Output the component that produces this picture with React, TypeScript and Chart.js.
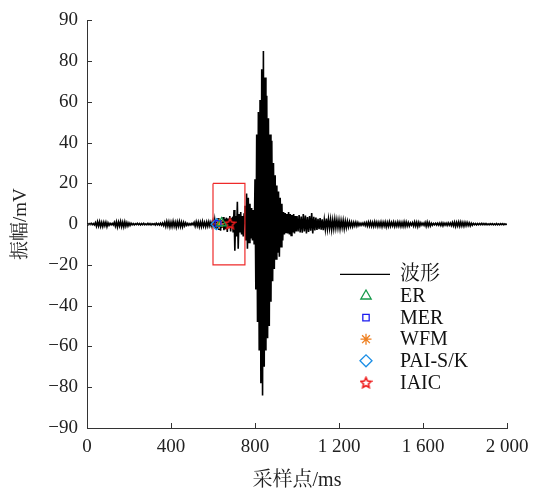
import React, { useEffect, useRef } from "react";
import { Chart, registerables } from "chart.js";
import { drawPoint } from "chart.js/helpers";

Chart.register(...registerables);

// ---- waveform samples ----
const PRE_START = 0;
const PRE_STEP = 5;
const WAVE_PRE = [
  0.2, -0.3, 0.3, -0.2, 0.4, -0.3, 0.3, -0.4,
  0.8, -1.0, 1.2, -0.9, 1.3, -1.1, 0.9, -1.2, 1.0, -0.8, 1.0, -1.2, 0.7, -0.6,
  0.4, -0.3, 0.4, -0.4,
  0.9, -1.0, 1.2, -1.4, 1.1, -0.9, 1.4, -1.2, 1.0, -1.3, 1.2, -1.0, 0.8, -0.9, 0.6, -0.6, 0.5,
  -0.3, 0.3, -0.4, 0.3, -0.2, 0.4, -0.3, 0.3, -0.4, 0.3, -0.3, 0.4, -0.3, 0.2, -0.3, 0.4,
  -0.3, 0.3, -0.4, 0.3, -0.2, 0.3, -0.4, 0.5, -0.3, 0.3, -0.4, 0.5, -0.5, 0.6, -0.7,
  0.9, -1.1, 1.3, -1.0, 1.2, -1.4, 1.0, -1.2, 1.4, -1.1, 1.0, -1.5, 1.2, -1.0, 1.4, -1.2,
  1.0, -1.3, 0.9, -0.8, 0.7, -0.6,
  0.4, -0.5, 0.3, -0.4, 0.5, -0.3,
  0.9, -1.0, 1.2, -0.9, 1.1, -1.3, 1.0, -1.2, 1.4, -1.0, 0.9, -1.2, 1.1, -1.0, 1.2, -0.9, 1.0, -1.1,
];

const ONSET_START = 600;
const ONSET_STEP = 4;
const WAVE_ONSET = [
  1.5, -1.2, 2.0, -2.5, 1.8, -2.2, 3.0, -2.8, 2.5, -3.2, 2.2, -1.8, 3.5, -3.0, 2.6, -2.4,
  3.2, -3.8, 2.8, -2.0, 4.0, -3.5, 2.5,
  3, -4, 7, -13, 4, -6, 11, -12,
  5, -4, 6, -5, 4, -6, 5,
  9, -8, 15, -12, 13, -9, 10, -7,
  8, -8, 7, -10,
  22, -32, 44, -48, 55, -62, 61, -78, 76, -84, 85, -70, 72, -62, 63, -56, 52, -50, 44, -38,
  41, -28, 30, -22, 24, -17, 19, -14, 16, -16, 13, -11, 10, -8, 6, -5, 5.5, -4, 5, -4.5,
  6, -5, 5, -5.5, 4.5, -4, 5, -4.5, 4, -3.5,
];

const CODA_START = 1000;
const CODA_STEP = 5;
const WAVE_CODA = [
  4, -3.5, 4.5, -4, 3.8, -4.2, 5, -3.6, 4.2, -4.5, 3.5, -3.8, 4.0, -3.2, 5.5, -4.6, 3.6, -3.0, 3.2, -2.8,
  2.6, -2.4, 3.0, -2.7, 2.4, -2.9, 2.2, -2.5, 2.8, -2.3, 2.5, -2.0, 2.3, -2.6, 2.0, -2.2, 2.4, -1.9, 2.1, -1.8,
  2.0, -2.2, 1.8, -1.6, 1.9, -2.1, 1.5, -1.7, 1.4, -1.3, 1.2, -1.1, 1.0, -1.2, 0.9, -0.8, 1.0, -0.9, 0.8, -0.7,
  0.5, -0.6, 0.5, -0.5, 0.7, -0.7, 0.8, -0.9, 1.0, -0.9, 1.1, -1.0, 0.9, -1.1, 1.2, -0.9, 1.0, -1.1, 0.9, -1.0,
  1.1, -1.2, 1.0, -0.9, 1.1, -1.3, 0.9, -1.1, 1.2, -1.0, 0.9, -0.8, 1.1, -1.1, 0.8, -1.0, 1.1, -0.9, 1.0, -1.1,
  0.9, -1.1, 1.2, -1.0, 1.1, -0.9, 0.8, -0.9, 0.6, -0.5, 0.8, -0.9, 1.1, -0.9, 1.0, -1.2, 0.9, -0.8, 0.7, -0.5,
  0.5, -0.6, 0.9, -1.0, 1.1, -0.9, 0.8, -0.9, 0.5, -0.5, 0.4, -0.3, 0.5, -0.4, 0.5, -0.5, 0.6, -0.7, 0.7, -0.8,
  0.6, -0.5, 0.5, -0.6, 0.7, -0.5, 0.6, -0.7, 0.9, -0.8, 1.0, -1.1, 0.9, -0.9, 1.1, -1.0, 1.1, -0.9, 0.9, -1.0,
  0.9, -0.8, 0.9, -0.7, 0.7, -0.8, 0.5, -0.5, 0.4, -0.3, 0.3, -0.4, 0.3, -0.3, 0.3, -0.3, 0.4, -0.3, 0.3, -0.3,
  0.3, -0.3, 0.2, -0.3, 0.3, -0.2, 0.3, -0.3, 0.2, -0.3, 0.3, -0.3, 0.2, -0.3, 0.3, -0.2, 0.3, -0.3, 0.2, -0.2, 0.2,
];

const WAVE_NAME = "波形";

// ---- picked arrival points ----
const PICK_NAMES = ["ER", "MER", "WFM", "PAI-S/K", "IAIC"];
const PICK_X = [641, 624, 630, 617, 681];
const PICK_Y = [0.6, 0.3, 0.2, 0, 0.4];
const PICK_COLORS = ["#169a4a", "#1c1cf0", "#ee7f1e", "#1a8ee6", "#ee1c1c"];
const PICK_STYLES = ["triangle", "rect", "star", "rectRot", "pentagram"];

// ---- zoom box ----
const BOX_X = [600, 752, 752, 600, 600];
const BOX_Y = [20, 20, -20, -20, 20];

// ---- axes ----
const X_TICKS = [0, 400, 800, 1200, 1600, 2000];
const X_TICK_LABELS = ["0", "400", "800", "1 200", "1 600", "2 000"];
const Y_TICKS = [-100, -80, -60, -40, -20, 0, 20, 40, 60, 80, 100];
const Y_TICK_LABELS = ["−90", "−80", "−60", "−40", "−20", "0", "20", "40", "60", "80", "90"];
const X_TITLE = "采样点/ms";
const Y_TITLE = "振幅/mV";

const SERIF = '"Liberation Serif", "Times New Roman", "Noto Serif CJK SC", "Noto Sans CJK SC", serif';

function makeStar(color: string, size: number) {
  const c = document.createElement("canvas");
  c.width = size;
  c.height = size;
  const g = c.getContext("2d")!;
  g.strokeStyle = color;
  g.lineWidth = 1.6;
  const cx = size / 2;
  const cy = size / 2 + 0.6;
  const R = size / 2 - 1;
  const r = R * 0.48;
  g.beginPath();
  for (let i = 0; i < 10; i++) {
    const a = -Math.PI / 2 + (i * Math.PI) / 5;
    const rad = i % 2 ? r : R;
    g.lineTo(cx + rad * Math.cos(a), cy + rad * Math.sin(a));
  }
  g.closePath();
  g.stroke();
  return c;
}

function seg(vals: number[], start: number, step: number) {
  return vals.map((v, i) => ({ x: start + i * step, y: v }));
}

const RADIUS: Record<string, number> = { triangle: 6, rect: 4.5, star: 5.5, rectRot: 6, pentagram: 6 };

export default function App() {
  const ref = useRef<HTMLCanvasElement | null>(null);

  useEffect(() => {
    if (!ref.current) return;
    const star = makeStar(PICK_COLORS[4], 13);
    const styleOf = (s: string) => (s === "pentagram" ? star : s);

    const wave = [
      ...seg(WAVE_PRE, PRE_START, PRE_STEP),
      ...seg(WAVE_ONSET, ONSET_START, ONSET_STEP),
      ...seg(WAVE_CODA, CODA_START, CODA_STEP),
    ];

    const pickSets = PICK_NAMES.map((name, i) => ({
      label: name,
      data: [{ x: PICK_X[i], y: PICK_Y[i] }],
      showLine: false,
      borderColor: PICK_COLORS[i],
      backgroundColor: "rgba(0,0,0,0)",
      pointStyle: styleOf(PICK_STYLES[i]) as any,
      pointRadius: RADIUS[PICK_STYLES[i]] - 0.5,
      pointBorderWidth: 1.3,
    }));

    const innerTicks = {
      id: "innerTicks",
      afterDraw(chart: any) {
        const { ctx, chartArea, scales } = chart;
        ctx.save();
        ctx.strokeStyle = "#333";
        ctx.lineWidth = 1;
        ctx.beginPath();
        X_TICKS.forEach((v) => {
          const px = Math.round(scales.x.getPixelForValue(v)) + 0.5;
          ctx.moveTo(px, chartArea.bottom);
          ctx.lineTo(px, chartArea.bottom - 5);
        });
        Y_TICKS.forEach((v) => {
          const py = Math.round(scales.y.getPixelForValue(v)) + 0.5;
          ctx.moveTo(chartArea.left, py);
          ctx.lineTo(chartArea.left + 5, py);
        });
        ctx.stroke();

        // legend
        const lx = chartArea.left + 253;
        const tx = chartArea.left + 313;
        let ly = chartArea.top + 254;
        const gap = 21.6;
        ctx.font = `20px ${SERIF}`;
        ctx.fillStyle = "#111";
        ctx.textBaseline = "middle";
        ctx.textAlign = "left";
        ctx.strokeStyle = "#000";
        ctx.lineWidth = 1.3;
        ctx.beginPath();
        ctx.moveTo(lx, ly);
        ctx.lineTo(lx + 50, ly);
        ctx.stroke();
        ctx.fillText(WAVE_NAME, tx, ly);
        PICK_NAMES.forEach((name, i) => {
          ly += gap;
          ctx.strokeStyle = PICK_COLORS[i];
          ctx.fillStyle = "rgba(0,0,0,0)";
          ctx.lineWidth = 1.3;
          drawPoint(
            ctx,
            {
              pointStyle: styleOf(PICK_STYLES[i]) as any,
              radius: RADIUS[PICK_STYLES[i]],
              rotation: 0,
              borderWidth: 1.3,
            } as any,
            lx + 26,
            ly
          );
          ctx.fillStyle = "#111";
          ctx.fillText(name, tx, ly + 1);
        });
        ctx.restore();
      },
    };

    const chart = new Chart(ref.current, {
      type: "line",
      data: {
        datasets: [
          {
            label: WAVE_NAME,
            data: wave,
            borderColor: "#000",
            borderWidth: 1.6,
            pointRadius: 0,
            tension: 0,
            order: 3,
          },
          {
            label: "box",
            data: BOX_X.map((x, i) => ({ x, y: BOX_Y[i] })),
            borderColor: "#ee2a2a",
            borderWidth: 1.2,
            pointRadius: 0,
            tension: 0,
            order: 2,
          },
          ...pickSets.map((p) => ({ ...p, order: 1 })),
        ] as any,
      },
      options: {
        animation: false,
        responsive: true,
        maintainAspectRatio: false,
        layout: { padding: { top: 17, right: 30, left: 0, bottom: 0 } },
        plugins: { legend: { display: false }, tooltip: { enabled: false } },
        scales: {
          x: {
            type: "linear",
            min: 0,
            max: 2000,
            afterFit: (s: any) => {
              s.height = 62;
            },
            afterBuildTicks: (s: any) => {
              s.ticks = X_TICKS.map((v) => ({ value: v }));
            },
            ticks: {
              autoSkip: false,
              maxRotation: 0,
              padding: 8,
              color: "#222",
              font: { family: SERIF, size: 19 },
              callback: (v: any) => X_TICK_LABELS[X_TICKS.indexOf(Number(v))] ?? "",
            },
            grid: { display: true, drawOnChartArea: false, drawTicks: false },
            border: { display: true, color: "#333", width: 1 },
            title: {
              display: true,
              text: X_TITLE,
              color: "#222",
              font: { family: SERIF, size: 20 },
              padding: { top: 0, bottom: -3 },
            },
          },
          y: {
            type: "linear",
            min: -100,
            max: 100,
            afterFit: (s: any) => {
              s.width = 87;
            },
            afterBuildTicks: (s: any) => {
              s.ticks = Y_TICKS.map((v) => ({ value: v }));
            },
            ticks: {
              autoSkip: false,
              padding: 9,
              color: "#222",
              font: { family: SERIF, size: 19 },
              callback: (v: any) => Y_TICK_LABELS[Y_TICKS.indexOf(Number(v))] ?? "",
            },
            grid: { display: true, drawOnChartArea: false, drawTicks: false },
            border: { display: true, color: "#333", width: 1 },
            title: {
              display: true,
              text: Y_TITLE,
              color: "#222",
              font: { family: SERIF, size: 19 },
              padding: { top: 10, bottom: 0 },
            },
          },
        },
      },
      plugins: [innerTicks],
    });
    return () => chart.destroy();
  }, []);

  return (
    <div
      style={{
        position: "fixed",
        left: 0,
        top: 0,
        width: 537,
        height: 490,
        background: "#fff",
      }}
    >
      <canvas ref={ref} />
    </div>
  );
}
